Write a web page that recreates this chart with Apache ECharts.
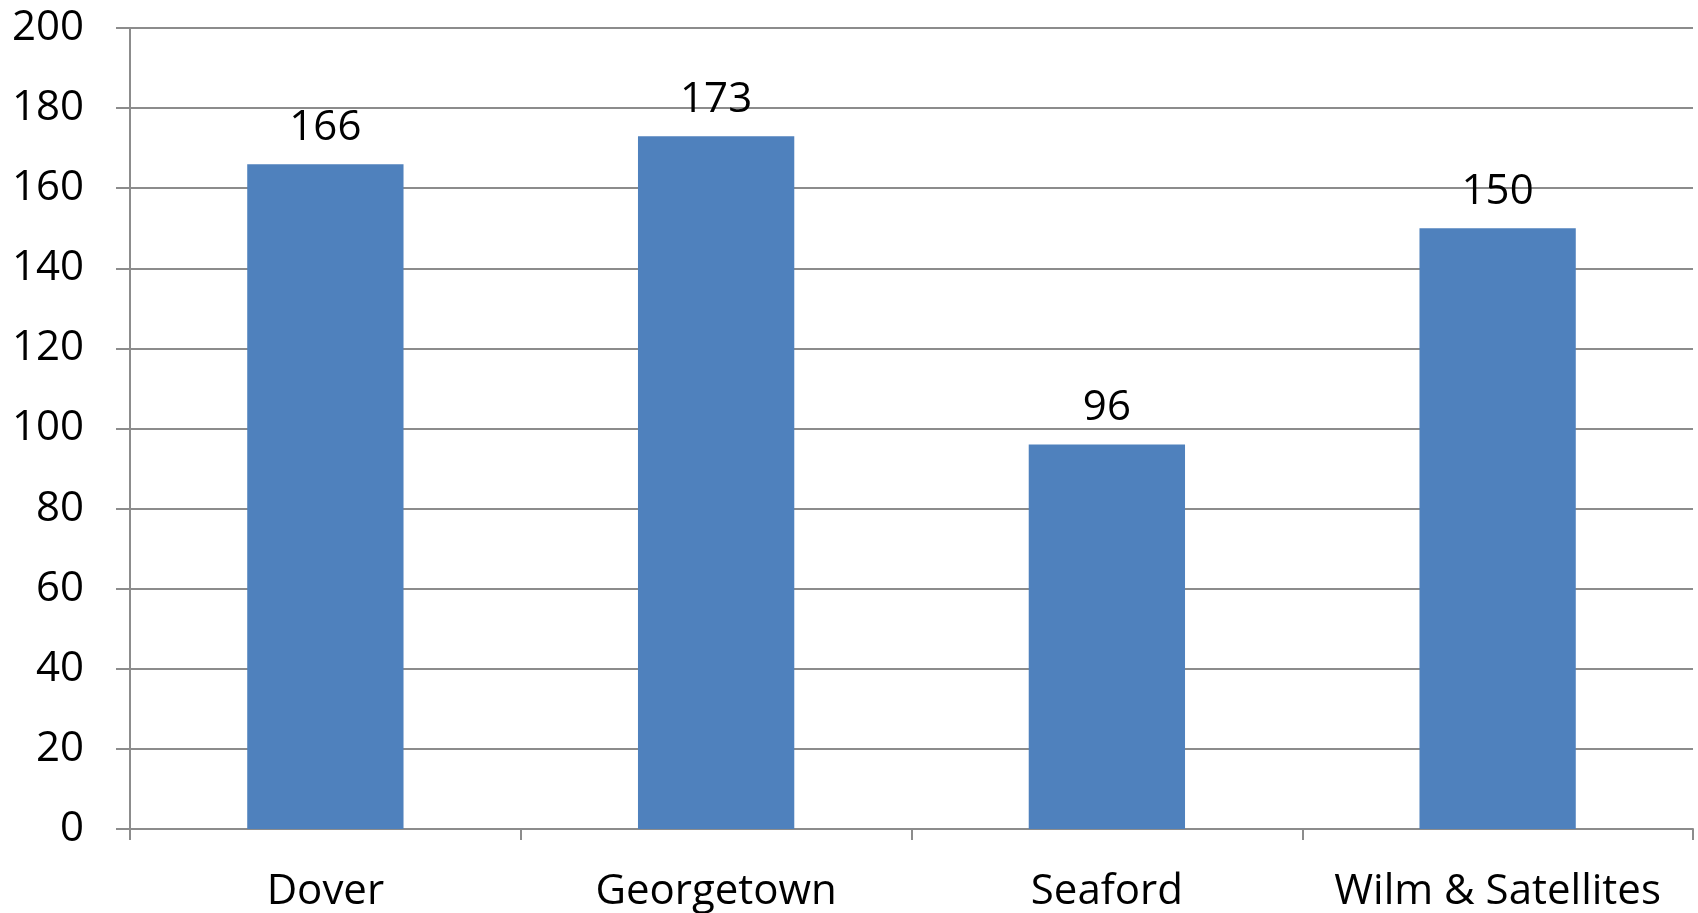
<!DOCTYPE html>
<html>
<head>
<meta charset="utf-8">
<script src="https://cdn.jsdelivr.net/npm/echarts@6/dist/echarts.min.js"></script>
<style>
html,body{margin:0;padding:0;background:#fff;}
#chart{width:1698px;height:913px;}
</style>
</head>
<body>
<div id="chart"></div>
<script>
const categories = ["Dover", "Georgetown", "Seaford", "Wilm & Satellites"];
const values = [166, 173, 96, 150];
const yTicks = [0, 20, 40, 60, 80, 100, 120, 140, 160, 180, 200];

const chart = echarts.init(document.getElementById('chart'));
const font = '"Open Sans", "Liberation Sans", sans-serif';
chart.setOption({
  animation: false,
  backgroundColor: '#ffffff',
  grid: { left: 130, right: 5, top: 28, bottom: 83 },
  xAxis: {
    type: 'category',
    data: categories,
    axisLine: { show: true, lineStyle: { color: '#8c8c8c', width: 2 } },
    axisTick: { show: true, length: 11, lineStyle: { color: '#8c8c8c', width: 2 } },
    axisLabel: { color: '#000', fontSize: 42, fontFamily: font, margin: 42, interval: 0 }
  },
  yAxis: {
    type: 'value',
    min: yTicks[0],
    max: yTicks[yTicks.length - 1],
    interval: 20,
    axisLine: { show: true, lineStyle: { color: '#8c8c8c', width: 2 } },
    axisTick: { show: true, length: 14, lineStyle: { color: '#8c8c8c', width: 2 } },
    splitLine: { show: true, lineStyle: { color: '#8c8c8c', width: 2 } },
    axisLabel: { color: '#000', fontSize: 42, fontFamily: font, margin: 46 }
  },
  series: [{
    type: 'bar',
    data: values,
    barCategoryGap: '60%',
    itemStyle: { color: '#4F81BD' },
    label: { show: true, position: 'top', distance: 15, color: '#000', fontSize: 42, fontFamily: font }
  }]
});
</script>
</body>
</html>
